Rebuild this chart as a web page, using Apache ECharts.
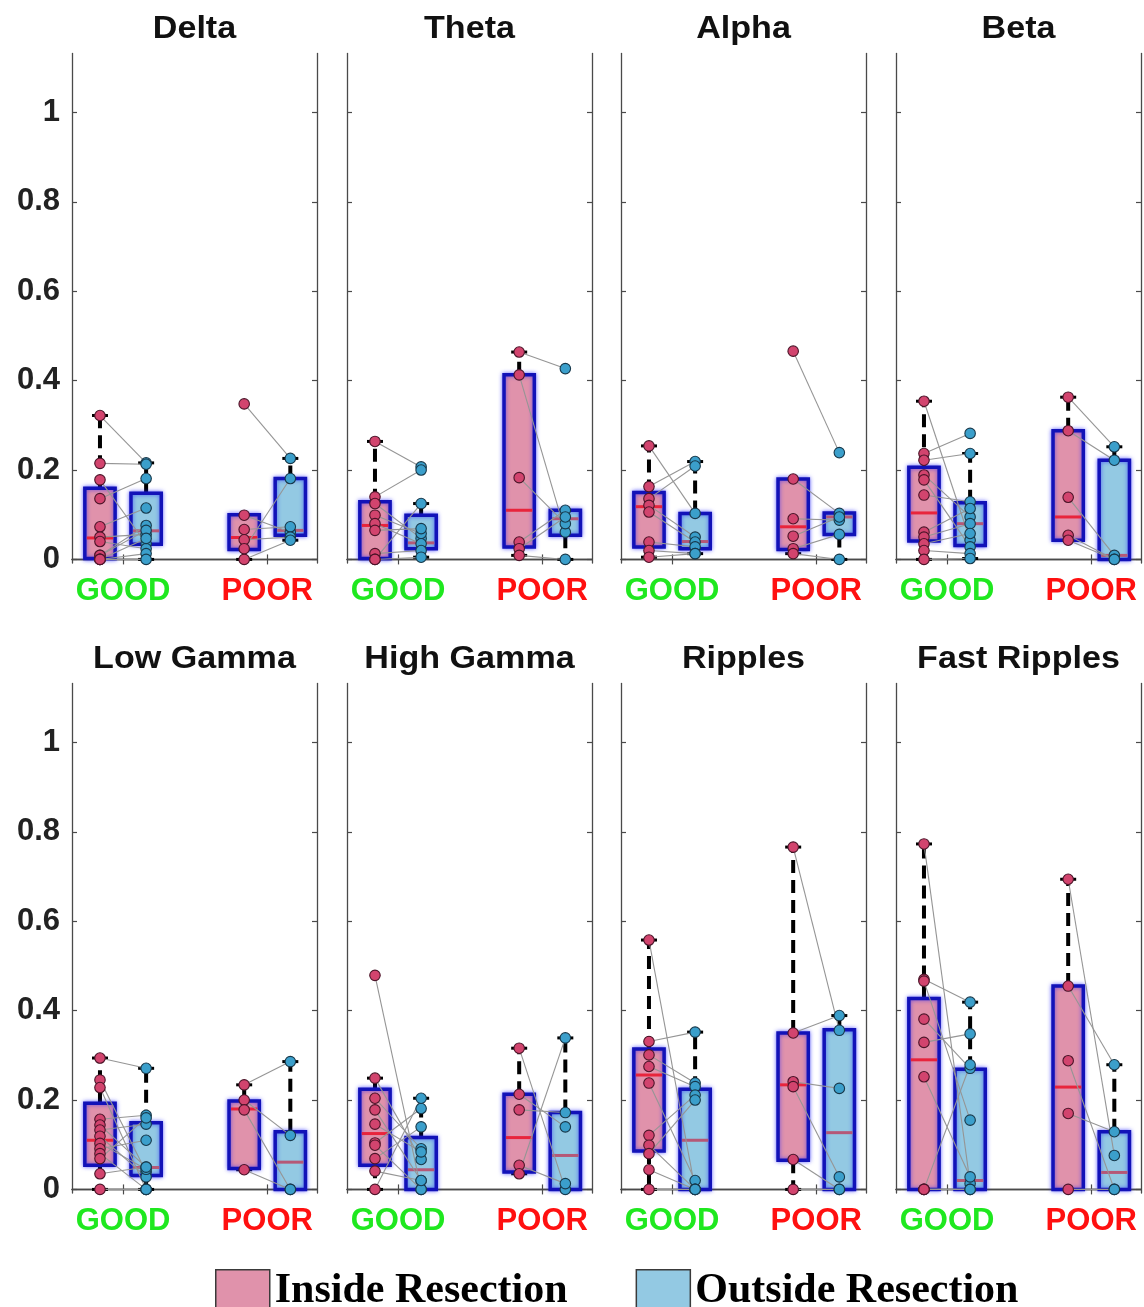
<!DOCTYPE html>
<html>
<head>
<meta charset="utf-8">
<script src="https://cdn.jsdelivr.net/npm/echarts@6/dist/echarts.min.js"></script>
<style>
  html, body { margin: 0; padding: 0; background: #fff; }
  #chart { width: 1144px; height: 1307px; }
</style>
</head>
<body>
<div id="chart"></div>
<script>
// Frequency bands, one panel each
const bands = ['Delta', 'Theta', 'Alpha', 'Beta', 'Low Gamma', 'High Gamma', 'Ripples', 'Fast Ripples'];
const outcomes = ['GOOD', 'POOR'];
const yTicks = [0, 0.2, 0.4, 0.6, 0.8, 1];

// Per-patient pairs: [inside resection, outside resection]
const deltaGood = [[0.322, 0.216], [0.215, 0.213], [0.178, 0.035], [0.136, 0.181], [0.073, 0.115], [0.050, 0.056],
                   [0.040, 0.024], [0.009, 0.076], [0.009, 0.065], [0.000, 0.047], [0.000, 0.013], [0.000, 0.000]];
const deltaPoor = [[0.348, 0.226], [0.099, 0.061], [0.067, 0.073], [0.044, 0.050], [0.024, 0.181], [0.000, 0.043]];
const thetaGood = [[0.264, 0.207], [0.140, 0.200], [0.125, 0.047], [0.099, 0.058], [0.080, 0.035], [0.065, 0.069],
                   [0.013, 0.020], [0.000, 0.125], [0.000, 0.005]];
const thetaPoor = [[0.464, 0.427], [0.413, 0.061], [0.183, 0.080], [0.039, 0.110], [0.024, 0.095], [0.009, 0.000]];
const alphaGood = [[0.254, 0.103], [0.163, 0.219], [0.136, 0.209], [0.121, 0.050], [0.106, 0.039], [0.039, 0.028],
                   [0.020, 0.013], [0.005, 0.013]];
const alphaPoor = [[0.466, 0.239], [0.180, 0.103], [0.091, 0.088], [0.052, 0.095], [0.024, 0.056], [0.013, 0.000]];
const betaGood = [[0.354, 0.043], [0.237, 0.282], [0.222, 0.237], [0.189, 0.095], [0.178, 0.028], [0.144, 0.129],
                  [0.061, 0.114], [0.050, 0.080], [0.035, 0.058], [0.020, 0.013], [0.000, 0.002]];
const betaPoor = [[0.363, 0.252], [0.288, 0.222], [0.139, 0.009], [0.054, 0.000], [0.043, 0.000]];
const lowGammaGood = [[0.294, 0.271], [0.245, 0.039], [0.228, 0.000], [0.157, 0.166], [0.144, 0.050], [0.133, 0.146],
                      [0.119, 0.028], [0.103, 0.045], [0.091, 0.110], [0.080, 0.000], [0.069, 0.160], [0.035, 0.050],
                      [0.000, 0.000]];
const lowGammaPoor = [[0.234, 0.286], [0.200, 0.121], [0.178, 0.000], [0.044, 0.000]];
const highGammaGood = [[0.479, 0.000], [0.249, 0.067], [0.204, 0.091], [0.178, 0.020], [0.146, 0.084], [0.104, 0.181],
                       [0.099, 0.000], [0.069, 0.140], [0.041, 0.020], [0.000, 0.204]];
const highGammaPoor = [[0.316, 0.000], [0.213, 0.140], [0.178, 0.172], [0.054, 0.013], [0.035, 0.339]];
const ripplesGood = [[0.558, 0.000], [0.331, 0.352], [0.301, 0.238], [0.275, 0.230], [0.238, 0.020], [0.121, 0.211],
                     [0.099, 0.000], [0.080, 0.200], [0.044, 0.000], [0.000, 0.000]];
const ripplesPoor = [[0.766, 0.356], [0.350, 0.389], [0.241, 0.226], [0.230, 0.028], [0.067, 0.000], [0.000, 0.000]];
const fastRipplesGood = [[0.773, 0.013], [0.470, 0.419], [0.466, 0.155], [0.381, 0.271], [0.329, 0.348], [0.252, 0.028],
                         [0.000, 0.279], [0.000, 0.000], [0.000, 0.000]];
const fastRipplesPoor = [[0.694, 0.076], [0.455, 0.279], [0.288, 0.000], [0.170, 0.129], [0.000, 0.000]];

// Box summaries: [lower whisker, Q1, median, Q3, upper whisker]; first inside, then outside
const deltaGoodBox = [[0.000, 0.002, 0.048, 0.159, 0.322], [0.000, 0.034, 0.064, 0.148, 0.216]];
const deltaPoorBox = [[0.000, 0.022, 0.049, 0.100, 0.100], [0.043, 0.054, 0.065, 0.181, 0.226]];
const thetaGoodBox = [[0.000, 0.002, 0.076, 0.129, 0.264], [0.005, 0.024, 0.037, 0.099, 0.125]];
const thetaPoorBox = [[0.009, 0.028, 0.110, 0.413, 0.464], [0.000, 0.054, 0.091, 0.110, 0.110]];
const alphaGoodBox = [[0.005, 0.028, 0.118, 0.150, 0.254], [0.013, 0.024, 0.040, 0.103, 0.219]];
const alphaPoorBox = [[0.013, 0.022, 0.073, 0.180, 0.180], [0.000, 0.056, 0.095, 0.104, 0.104]];
const betaGoodBox = [[0.000, 0.041, 0.104, 0.206, 0.354], [0.002, 0.031, 0.080, 0.127, 0.237]];
const betaPoorBox = [[0.043, 0.043, 0.095, 0.288, 0.363], [0.000, 0.000, 0.009, 0.222, 0.252]];
const lowGammaGoodBox = [[0.000, 0.054, 0.110, 0.193, 0.294], [0.000, 0.031, 0.049, 0.149, 0.271]];
const lowGammaPoorBox = [[0.044, 0.047, 0.180, 0.198, 0.234], [0.000, 0.000, 0.061, 0.129, 0.286]];
const highGammaGoodBox = [[0.000, 0.054, 0.125, 0.224, 0.249], [0.000, 0.000, 0.044, 0.116, 0.204]];
const highGammaPoorBox = [[0.035, 0.039, 0.116, 0.213, 0.316], [0.000, 0.000, 0.076, 0.172, 0.339]];
const ripplesGoodBox = [[0.000, 0.086, 0.256, 0.314, 0.558], [0.000, 0.000, 0.110, 0.224, 0.352]];
const ripplesPoorBox = [[0.000, 0.065, 0.234, 0.350, 0.766], [0.000, 0.000, 0.127, 0.357, 0.389]];
const fastRipplesGoodBox = [[0.000, 0.000, 0.290, 0.427, 0.773], [0.000, 0.000, 0.020, 0.269, 0.419]];
const fastRipplesPoorBox = [[0.000, 0.000, 0.229, 0.455, 0.694], [0.000, 0.000, 0.038, 0.129, 0.279]];

const pairsByBand = [
  [deltaGood, deltaPoor], [thetaGood, thetaPoor], [alphaGood, alphaPoor], [betaGood, betaPoor],
  [lowGammaGood, lowGammaPoor], [highGammaGood, highGammaPoor], [ripplesGood, ripplesPoor], [fastRipplesGood, fastRipplesPoor]
];
const boxesByBand = [
  [deltaGoodBox, deltaPoorBox], [thetaGoodBox, thetaPoorBox], [alphaGoodBox, alphaPoorBox], [betaGoodBox, betaPoorBox],
  [lowGammaGoodBox, lowGammaPoorBox], [highGammaGoodBox, highGammaPoorBox], [ripplesGoodBox, ripplesPoorBox],
  [fastRipplesGoodBox, fastRipplesPoorBox]
];

// Layout of the 2 x 4 panel grid
const COL_LEFT = [72, 347, 621, 896];
const ROW_TOP = [53.5, 683.5];
const PANEL_W = 245;
const PANEL_H = 509.5;
const X_MIN = 0.646, X_MAX = 2.345;
const Y_MIN = -0.008, Y_MAX = 1.132;
const OFFSET = 0.16;     // inside / outside shift from the outcome position
const BOX_W = 0.21;

const INSIDE = { name: 'Inside Resection', fill: '#e092ab', median: '#e8243c', point: '#d2446e', pointBorder: '#4a1428' };
const OUTSIDE = { name: 'Outside Resection', fill: '#93c9e3', median: '#b55877', point: '#3b9fcb', pointBorder: '#17384a' };

const FRAME = '#4a4a4a';
const SANS = '"Liberation Sans", Arial, sans-serif';

function boxRenderer(fill, medianColor) {
  return function (params, api) {
    const x = api.value(0);
    const at = k => api.coord([x, api.value(k)]);
    const lo = at(1), q1 = at(2), md = at(3), q3 = at(4), hi = at(5);
    const half = api.size([BOX_W, 0])[0] / 2;
    const cx = lo[0];
    const whisker = { stroke: '#000', lineWidth: 4, lineDash: [13, 7] };
    const cap = { stroke: '#000', lineWidth: 3 };
    const kids = [];
    if (hi[1] < q3[1] - 1) {
      kids.push({ type: 'line', shape: { x1: cx, y1: q3[1], x2: cx, y2: hi[1] }, style: whisker });
      kids.push({ type: 'line', shape: { x1: cx - 8, y1: hi[1], x2: cx + 8, y2: hi[1] }, style: cap });
    }
    if (lo[1] > q1[1] + 1) {
      kids.push({ type: 'line', shape: { x1: cx, y1: q1[1], x2: cx, y2: lo[1] }, style: whisker });
      kids.push({ type: 'line', shape: { x1: cx - 8, y1: lo[1], x2: cx + 8, y2: lo[1] }, style: cap });
    }
    kids.push({
      type: 'rect',
      shape: { x: cx - half, y: q3[1], width: 2 * half, height: q1[1] - q3[1] },
      style: { fill: fill, stroke: '#1212b8', lineWidth: 3.5, shadowBlur: 4, shadowColor: 'rgba(30,30,255,0.6)' }
    });
    kids.push({
      type: 'line',
      shape: { x1: cx - half + 2, y1: md[1], x2: cx + half - 2, y2: md[1] },
      style: { stroke: medianColor, lineWidth: 3 }
    });
    return { type: 'group', children: kids };
  };
}

function pairRenderer(params, api) {
  const a = api.coord([api.value(0), api.value(1)]);
  const b = api.coord([api.value(2), api.value(3)]);
  return {
    type: 'line',
    shape: { x1: a[0], y1: a[1], x2: b[0], y2: b[1] },
    style: { stroke: '#959595', lineWidth: 1.1 }
  };
}

const grid = [], xAxis = [], yAxis = [], series = [], graphic = [];

bands.forEach((band, i) => {
  const row = Math.floor(i / 4), col = i % 4;
  grid.push({ left: COL_LEFT[col], top: ROW_TOP[row], width: PANEL_W, height: PANEL_H, show: false });

  const axLine = { show: true, lineStyle: { color: FRAME, width: 1.3 } };
  const tick = (vals) => ({ show: true, inside: true, length: 5, customValues: vals, lineStyle: { color: FRAME, width: 1.2 } });

  // bottom x axis with outcome labels, and a top copy for the frame
  xAxis.push({
    gridIndex: i, type: 'value', min: X_MIN, max: X_MAX, position: 'bottom',
    axisLine: axLine, axisTick: tick([1, 2]), splitLine: { show: false },
    axisLabel: {
      customValues: [1, 2], margin: 13,
      formatter: v => (Math.round(v) === 1 ? '{good|' + outcomes[0] + '}' : '{poor|' + outcomes[1] + '}'),
      rich: {
        good: { color: '#1fe81f', fontSize: 31, fontWeight: 'bold', fontFamily: SANS },
        poor: { color: '#ff1010', fontSize: 31, fontWeight: 'bold', fontFamily: SANS }
      }
    }
  });
  xAxis.push({
    gridIndex: i, type: 'value', min: X_MIN, max: X_MAX, position: 'top',
    axisLine: axLine, axisTick: tick([1, 2]), splitLine: { show: false }, axisLabel: { show: false }
  });
  yAxis.push({
    gridIndex: i, type: 'value', min: Y_MIN, max: Y_MAX, position: 'left',
    axisLine: axLine, axisTick: tick(yTicks), splitLine: { show: false },
    axisLabel: {
      show: col === 0, customValues: yTicks, margin: 12,
      formatter: v => String(+v.toFixed(1)),
      color: '#222', fontSize: 31, fontWeight: 'bold', fontFamily: SANS,
      padding: [7, 0, 0, 0]
    }
  });
  yAxis.push({
    gridIndex: i, type: 'value', min: Y_MIN, max: Y_MAX, position: 'right',
    axisLine: axLine, axisTick: tick(yTicks), splitLine: { show: false }, axisLabel: { show: false }
  });

  const xi = 2 * i, yi = 2 * i;
  const boxes = boxesByBand[i];
  const pairs = pairsByBand[i];

  [INSIDE, OUTSIDE].forEach((side, s) => {
    const shift = s === 0 ? -OFFSET : OFFSET;
    series.push({
      name: side.name, type: 'custom', xAxisIndex: xi, yAxisIndex: yi, z: 2,
      itemStyle: { color: side.fill },
      renderItem: boxRenderer(side.fill, side.median),
      data: outcomes.map((o, g) => [g + 1 + shift].concat(boxes[g][s]))
    });
  });

  series.push({
    type: 'custom', xAxisIndex: xi, yAxisIndex: yi, z: 3, silent: true,
    renderItem: pairRenderer,
    data: outcomes.flatMap((o, g) => pairs[g].map(p => [g + 1 - OFFSET, p[0], g + 1 + OFFSET, p[1]]))
  });

  [INSIDE, OUTSIDE].forEach((side, s) => {
    const shift = s === 0 ? -OFFSET : OFFSET;
    series.push({
      type: 'scatter', xAxisIndex: xi, yAxisIndex: yi, z: 4, silent: true,
      symbol: 'circle', symbolSize: 10.5,
      itemStyle: { color: side.point, borderColor: side.pointBorder, borderWidth: 1.1, opacity: 1 },
      data: outcomes.flatMap((o, g) => pairs[g].map(p => [g + 1 + shift, p[s]]))
    });
  });

  graphic.push({
    type: 'text',
    x: COL_LEFT[col] + PANEL_W / 2,
    y: ROW_TOP[row] - 24,
    scaleX: 1.1,
    style: {
      text: band, fill: '#111', font: 'bold 31px ' + SANS,
      textAlign: 'center', textVerticalAlign: 'middle'
    }
  });
});

const chart = echarts.init(document.getElementById('chart'), null, { renderer: 'canvas' });
chart.setOption({
  animation: false,
  backgroundColor: '#fff',
  grid, xAxis, yAxis, series, graphic,
  legend: {
    left: 210, top: 1264,
    itemWidth: 54, itemHeight: 42, itemGap: 68,
    selectedMode: false,
    data: [
      { name: INSIDE.name, icon: 'rect', itemStyle: { color: INSIDE.fill, borderColor: '#3a3a3a', borderWidth: 1.5 } },
      { name: OUTSIDE.name, icon: 'rect', itemStyle: { color: OUTSIDE.fill, borderColor: '#3a3a3a', borderWidth: 1.5 } }
    ],
    textStyle: { color: '#000', fontSize: 42, fontWeight: 'bold', fontFamily: '"Liberation Serif", "Times New Roman", serif' }
  }
});
</script>
</body>
</html>
